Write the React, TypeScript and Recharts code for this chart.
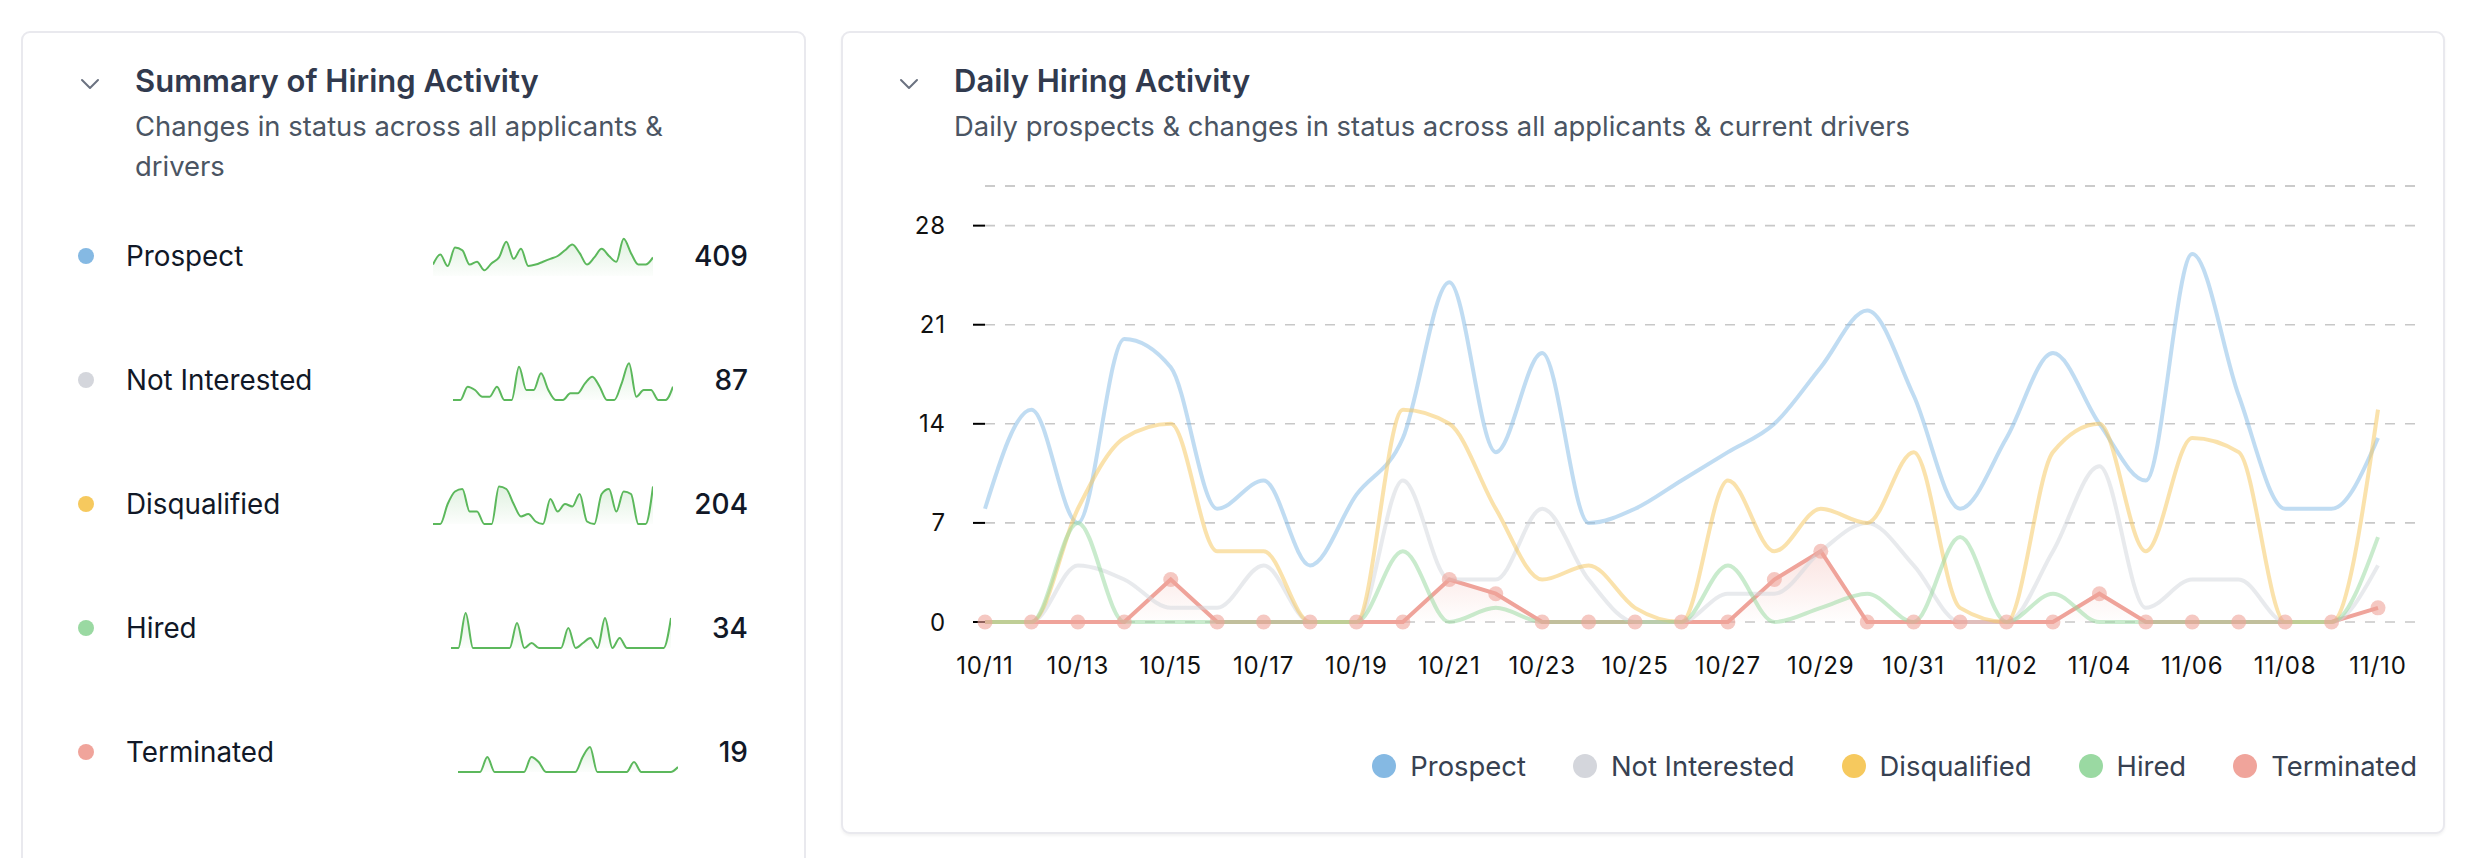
import React from 'react';
import {
  ComposedChart,
  AreaChart,
  Area,
  Line,
  XAxis,
  YAxis,
  CartesianGrid,
  ReferenceLine,
} from 'recharts';

// ---------- data ----------
const dates = [
  '10/11', '10/12', '10/13', '10/14', '10/15', '10/16', '10/17', '10/18', '10/19', '10/20',
  '10/21', '10/22', '10/23', '10/24', '10/25', '10/26', '10/27', '10/28', '10/29', '10/30',
  '10/31', '11/01', '11/02', '11/03', '11/04', '11/05', '11/06', '11/07', '11/08', '11/09', '11/10',
];
const prospect = [8, 15, 7, 20, 18, 8, 10, 4, 9, 13, 24, 12, 19, 7, 8, 10, 12, 14, 18, 22, 16, 8, 13, 19, 14, 10, 26, 16, 8, 8, 13];
const notInterested = [0, 0, 4, 3, 1, 1, 4, 0, 0, 10, 3, 3, 8, 3, 0, 0, 2, 2, 5, 7, 4, 0, 0, 5, 11, 1, 3, 3, 0, 0, 4];
const disqualified = [0, 0, 8, 13, 14, 5, 5, 0, 0, 15, 14, 8, 3, 4, 1, 0, 10, 5, 8, 7, 12, 1, 0, 12, 14, 5, 13, 12, 0, 0, 15];
const hired = [0, 0, 7, 0, 0, 0, 0, 0, 0, 5, 0, 1, 0, 0, 0, 0, 4, 0, 1, 2, 0, 6, 0, 2, 0, 0, 0, 0, 0, 0, 6];
const terminated = [0, 0, 0, 0, 3, 0, 0, 0, 0, 0, 3, 2, 0, 0, 0, 0, 0, 3, 5, 0, 0, 0, 0, 0, 2, 0, 0, 0, 0, 0, 1];

const seriesKeys = ['prospect', 'notInterested', 'disqualified', 'hired', 'terminated'];
const seriesNames = ['Prospect', 'Not Interested', 'Disqualified', 'Hired', 'Terminated'];
const totals = [409, 87, 204, 34, 19];
const yTicks = [0, 7, 14, 21, 28];
const yTop = 30.8;

const rows = dates.map((d, i) => ({
  d,
  prospect: prospect[i],
  notInterested: notInterested[i],
  disqualified: disqualified[i],
  hired: hired[i],
  terminated: terminated[i],
}));

// ---------- styles ----------
const dotColors = ['#85b9e3', '#d4d6dc', '#f6c95e', '#9ad9a2', '#f0a49b'];
const lineColors = ['#86bbe6', '#d3d6dc', '#f6c860', '#98d9a0', '#efa39a'];
const SPARK = '#5cb85c';
const FONT = 'Inter, "Noto Sans", sans-serif';

const Chevron = ({ x, y }: { x: number; y: number }) => (
  <svg style={{ position: 'absolute', left: x, top: y }} width={20} height={12} viewBox="0 0 20 12">
    <polyline points="2,2 10,10 18,2" fill="none" stroke="#6b7280" strokeWidth={2} strokeLinecap="round" strokeLinejoin="round" />
  </svg>
);

const Spark = ({ idx }: { idx: number }) => {
  const key = seriesKeys[idx];
  return (
    <AreaChart width={220} height={44} data={rows} margin={{ top: 2, right: 0, bottom: 2, left: 0 }}>
      <defs>
        <linearGradient id={`sg${idx}`} x1="0" y1="0" x2="0" y2="1">
          <stop offset="0%" stopColor={SPARK} stopOpacity={0.32} />
          <stop offset="100%" stopColor={SPARK} stopOpacity={0.03} />
        </linearGradient>
      </defs>
      <XAxis dataKey="d" hide scale="point" />
      <YAxis hide domain={[0, 'auto']} />
      <Area
        type="monotone"
        dataKey={key}
        stroke={SPARK}
        strokeWidth={2}
        fill={`url(#sg${idx})`}
        dot={false}
        activeDot={false}
        isAnimationActive={false}
      />
    </AreaChart>
  );
};

const rowCenters = [256, 380, 504, 628, 752];

export default function App() {
  const tickStyle = { fill: '#111', fontSize: 24, fontFamily: FONT, letterSpacing: 0.9 };
  return (
    <div style={{ position: 'relative', width: 2472, height: 858, overflow: 'hidden', background: '#fff', fontFamily: FONT }}>
      <style>{`body{margin:0;}`}</style>

      {/* Left card */}
      <div
        style={{
          position: 'absolute', left: 21, top: 31, width: 785, height: 900,
          border: '2px solid #e9e9ee', borderRadius: 9, boxSizing: 'border-box', background: '#fff',
        }}
      />
      <Chevron x={80} y={78} />
      <div style={{ position: 'absolute', left: 135, top: 81 - 20, height: 40, lineHeight: '40px', fontSize: 31, fontWeight: 600, color: '#313a4e', whiteSpace: 'nowrap' }}>
        Summary of Hiring Activity
      </div>
      <div style={{ position: 'absolute', left: 135, top: 126 - 20, lineHeight: '40px', fontSize: 27.4, color: '#4b5563', whiteSpace: 'nowrap' }}>
        Changes in status across all applicants &amp;
        <br />
        drivers
      </div>

      {seriesNames.map((name, i) => (
        <div
          key={name}
          style={{
            position: 'absolute', left: 78, top: rowCenters[i] - 30, width: 670, height: 60,
            display: 'flex', alignItems: 'center',
          }}
        >
          <div style={{ width: 16, height: 16, borderRadius: 8, background: dotColors[i], marginRight: 32, flex: 'none' }} />
          <div style={{ flex: 1, fontSize: 27.8, color: '#111827', whiteSpace: 'nowrap' }}>{name}</div>
          <div style={{ width: 220, height: 44, marginRight: 41, flex: 'none' }}>
            <Spark idx={i} />
          </div>
          <div style={{ fontSize: 28, fontWeight: 500, color: '#111827' }}>{totals[i]}</div>
        </div>
      ))}

      {/* Right card */}
      <div
        style={{
          position: 'absolute', left: 841, top: 31, width: 1604, height: 803,
          border: '2px solid #e9e9ee', borderRadius: 9, boxSizing: 'border-box', background: '#fff',
          boxShadow: '0 2px 3px rgba(0,0,0,0.05)',
        }}
      />
      <Chevron x={899} y={78} />
      <div style={{ position: 'absolute', left: 954, top: 81 - 20, height: 40, lineHeight: '40px', fontSize: 31, fontWeight: 600, color: '#313a4e', whiteSpace: 'nowrap' }}>
        Daily Hiring Activity
      </div>
      <div style={{ position: 'absolute', left: 954, top: 126 - 20, lineHeight: '40px', fontSize: 27.4, color: '#4b5563', whiteSpace: 'nowrap' }}>
        Daily prospects &amp; changes in status across all applicants &amp; current drivers
      </div>

      <div style={{ position: 'absolute', left: 860, top: 170 }}>
        <ComposedChart width={1570} height={532} data={rows} margin={{ top: 16, right: 15, bottom: 0, left: 0 }}>
          <defs>
            <linearGradient id="termGrad" x1="0" y1="0" x2="0" y2="1">
              <stop offset="0%" stopColor="#efa39a" stopOpacity={0.5} />
              <stop offset="100%" stopColor="#efa39a" stopOpacity={0.02} />
            </linearGradient>
          </defs>
          <CartesianGrid vertical={false} stroke="#c8c8c8" strokeDasharray="10 10" strokeWidth={1.6} />
          <ReferenceLine y={yTop} stroke="#c8c8c8" strokeDasharray="10 10" strokeWidth={1.6} />
          <XAxis
            dataKey="d"
            scale="point"
            interval={1}
            padding={{ left: 0, right: 37 }}
            axisLine={false}
            tickLine={false}
            tickSize={0}
            tickMargin={35}
            height={80}
            tick={tickStyle}
          />
          <YAxis
            domain={[0, yTop]}
            ticks={yTicks}
            width={125}
            axisLine={false}
            tickLine={{ stroke: '#000', strokeWidth: 2 }}
            tickSize={12}
            tickMargin={27}
            tick={tickStyle}
          />
          {seriesKeys.slice(0, 4).map((k, i) => (
            <Line
              key={k}
              type="monotone"
              dataKey={k}
              name={seriesNames[i]}
              stroke={lineColors[i]}
              strokeOpacity={0.52}
              strokeWidth={4}
              dot={false}
              activeDot={false}
              isAnimationActive={false}
            />
          ))}
          <Area
            type="linear"
            dataKey="terminated"
            name="Terminated"
            stroke={lineColors[4]}
            strokeWidth={4}
            fill="url(#termGrad)"
            dot={{ r: 7.5, fill: lineColors[4], stroke: lineColors[4], strokeWidth: 0 }}
            activeDot={false}
            isAnimationActive={false}
          />
        </ComposedChart>
      </div>

      {/* Legend */}
      <div
        style={{
          position: 'absolute', right: 2472 - 2417, top: 766 - 16, height: 32,
          display: 'flex', alignItems: 'center',
        }}
      >
        {seriesNames.map((name, i) => (
          <div key={name} style={{ display: 'flex', alignItems: 'center', marginLeft: i === 0 ? 0 : 47 }}>
            <div style={{ width: 24, height: 24, borderRadius: 12, background: dotColors[i], marginRight: 14 }} />
            <div style={{ fontSize: 27.4, color: '#374151', whiteSpace: 'nowrap' }}>{name}</div>
          </div>
        ))}
      </div>
    </div>
  );
}
